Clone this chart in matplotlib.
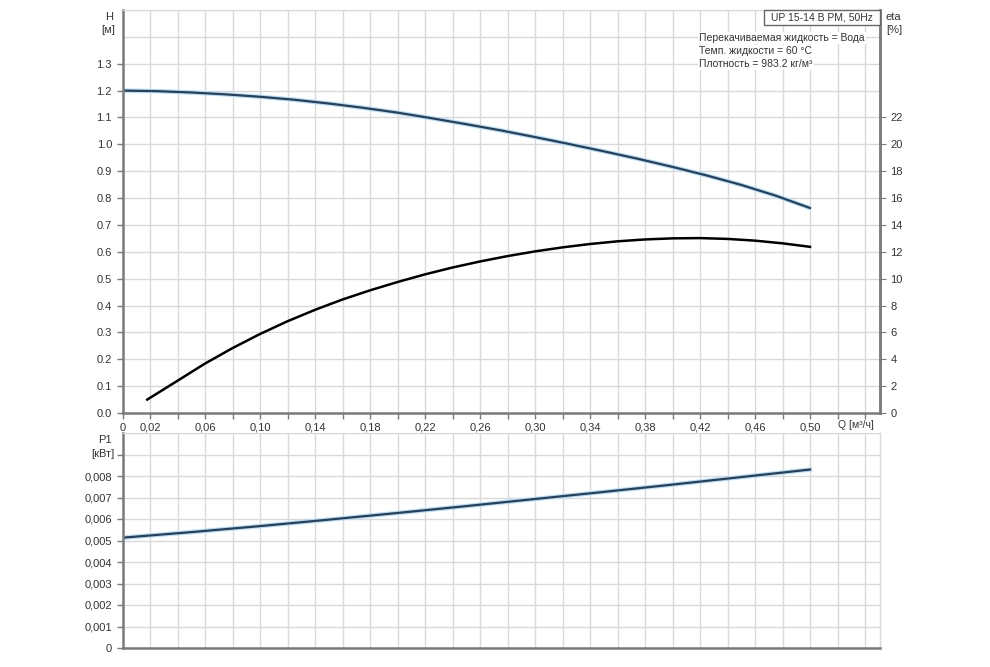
import matplotlib.pyplot as plt
from matplotlib.ticker import MultipleLocator, FixedLocator
from matplotlib.patches import Rectangle

plt.rcParams['font.family'] = ['Liberation Sans', 'DejaVu Sans']

# Напор H [м]
q_h = [0.0, 0.025, 0.05, 0.075, 0.10, 0.125, 0.15, 0.175, 0.20, 0.225, 0.25, 0.275,
       0.30, 0.325, 0.35, 0.375, 0.40, 0.425, 0.45, 0.475, 0.50]
h = [1.200, 1.198, 1.193, 1.186, 1.177, 1.166, 1.152, 1.136, 1.118, 1.097, 1.075, 1.052,
     1.027, 1.001, 0.974, 0.946, 0.916, 0.884, 0.849, 0.809, 0.763]

# КПД eta [%]
q_eta = [0.018, 0.04, 0.06, 0.08, 0.10, 0.12, 0.14, 0.16, 0.18, 0.20, 0.22, 0.24, 0.26,
         0.28, 0.30, 0.32, 0.34, 0.36, 0.38, 0.40, 0.42, 0.44, 0.46, 0.48, 0.50]
eta = [1.0, 2.4, 3.68, 4.83, 5.88, 6.83, 7.68, 8.45, 9.13, 9.75, 10.32, 10.83, 11.28,
       11.68, 12.03, 12.33, 12.58, 12.78, 12.92, 13.0, 13.02, 12.96, 12.83, 12.63, 12.37]

# Мощность P1 [кВт]
q_p = [0.0, 0.05, 0.10, 0.15, 0.20, 0.25, 0.30, 0.35, 0.40, 0.45, 0.50]
p1 = [0.00513, 0.00539, 0.00567, 0.00597, 0.00628, 0.00660, 0.00693, 0.00726,
      0.00760, 0.00795, 0.00830]

# Подписи осей
q_ticks = [0, 0.02, 0.06, 0.10, 0.14, 0.18, 0.22, 0.26, 0.30, 0.34, 0.38, 0.42, 0.46, 0.50]
q_labels = ['0'] + ['%.2f' % v for v in q_ticks[1:]]
q_labels = [s.replace('.', ',') for s in q_labels]
h_ticks = [0.0, 0.1, 0.2, 0.3, 0.4, 0.5, 0.6, 0.7, 0.8, 0.9, 1.0, 1.1, 1.2, 1.3]
eta_ticks = [0, 2, 4, 6, 8, 10, 12, 14, 16, 18, 20, 22]
p_ticks = [0, 0.001, 0.002, 0.003, 0.004, 0.005, 0.006, 0.007, 0.008, 0.009]
p_labels = ['0', '0,001', '0,002', '0,003', '0,004', '0,005', '0,006', '0,007', '0,008', '']

txt = '#333333'
grid_c = '#d9d9d9'
spine_c = '#7a7a7a'
blue = '#24425f'
W, H = 990, 667

fig = plt.figure(figsize=(9.9, 6.67), dpi=100)
ax1 = fig.add_axes([122.5 / W, 1 - 413 / H, 757.5 / W, 403 / H])
ax3 = fig.add_axes([122.5 / W, 1 - 648 / H, 757.5 / W, 215 / H])


def style(ax, right_dark):
    ax.set_xlim(0, 0.5509)
    ax.xaxis.set_minor_locator(MultipleLocator(0.02))
    ax.grid(True, which='both', color=grid_c, linewidth=1)
    ax.set_axisbelow(True)
    for s in ['left', 'bottom']:
        ax.spines[s].set_color(spine_c)
        ax.spines[s].set_linewidth(1.8)
    ax.spines['top'].set_color(grid_c)
    ax.spines['right'].set_color(spine_c if right_dark else grid_c)
    ax.spines['right'].set_linewidth(1.8 if right_dark else 1)
    ax.tick_params(which='both', colors=spine_c, labelcolor=txt, labelsize=8, length=4, width=1)


# Верхний график
style(ax1, True)
ax1.set_ylim(0, 1.5)
ax1.yaxis.set_minor_locator(MultipleLocator(0.1))
ax1.tick_params(axis='y', which='minor', length=0)
ax1.set_yticks(h_ticks)
ax1.set_yticklabels(['%.1f' % v for v in h_ticks])
ax1.set_xticks(q_ticks)
ax1.set_xticklabels(q_labels)
ax1.tick_params(axis='x', which='both', length=4, pad=3)
ax1.plot(q_h, h, color='#b9dcf2', linewidth=3.2, solid_capstyle='butt')
ax1.plot(q_h, h, color=blue, linewidth=1.6)

ax2 = ax1.twinx()
ax2.set_ylim(0, 30)
ax2.set_yticks(eta_ticks)
ax2.tick_params(axis='y', colors=spine_c, labelcolor=txt, labelsize=8, length=4)
for s in ax2.spines.values():
    s.set_visible(False)
ax2.spines['right'].set_visible(True)
ax2.spines['right'].set_color(spine_c)
ax2.spines['right'].set_linewidth(1.8)
ax2.plot(q_eta, eta, color='black', linewidth=1.8)

# Нижний график
style(ax3, False)
ax3.set_ylim(0, 0.010)
ax3.yaxis.set_minor_locator(MultipleLocator(0.001))
ax3.tick_params(axis='y', which='minor', length=0)
ax3.set_yticks(p_ticks)
ax3.set_yticklabels(p_labels)
ax3.xaxis.set_major_locator(FixedLocator([]))
ax3.tick_params(axis='x', which='major', length=0, labelbottom=False)
ax3.tick_params(axis='x', which='minor', length=0)
ax3.plot(q_p, p1, color='#b9dcf2', linewidth=3.2)
ax3.plot(q_p, p1, color=blue, linewidth=1.6)

# Подписи
def ftext(px, py, s, **kw):
    kw.setdefault('fontsize', 8)
    kw.setdefault('color', txt)
    return fig.text(px / W, 1 - py / H, s, va='center', **kw)


ftext(113, 17, 'H', ha='right')
ftext(115, 30, '[м]', ha='right')
ftext(886, 17, 'eta', ha='left')
ftext(886, 30, '[%]', ha='left')
ftext(112, 440, 'P1', ha='right')
ftext(115, 454, '[кВт]', ha='right')
ftext(838, 425, 'Q [м³/ч]', ha='left', fontsize=7.5)

fig.patches.append(Rectangle((764 / W, 1 - 25 / H), 116 / W, 15 / H,
                             transform=fig.transFigure, facecolor='white',
                             edgecolor='#666666', linewidth=1, zorder=5))
ftext(822, 17.5, 'UP 15-14 B PM, 50Hz', ha='center', fontsize=7.5, zorder=6)
for py, s in [(38, 'Перекачиваемая жидкость = Вода'),
              (51, 'Темп. жидкости = 60 °C'),
              (64, 'Плотность = 983.2 кг/м³')]:
    ftext(699, py, s, ha='left', fontsize=7.5,
          bbox=dict(facecolor='white', edgecolor='none', pad=1.0))

fig.savefig('out.png', dpi=100)
